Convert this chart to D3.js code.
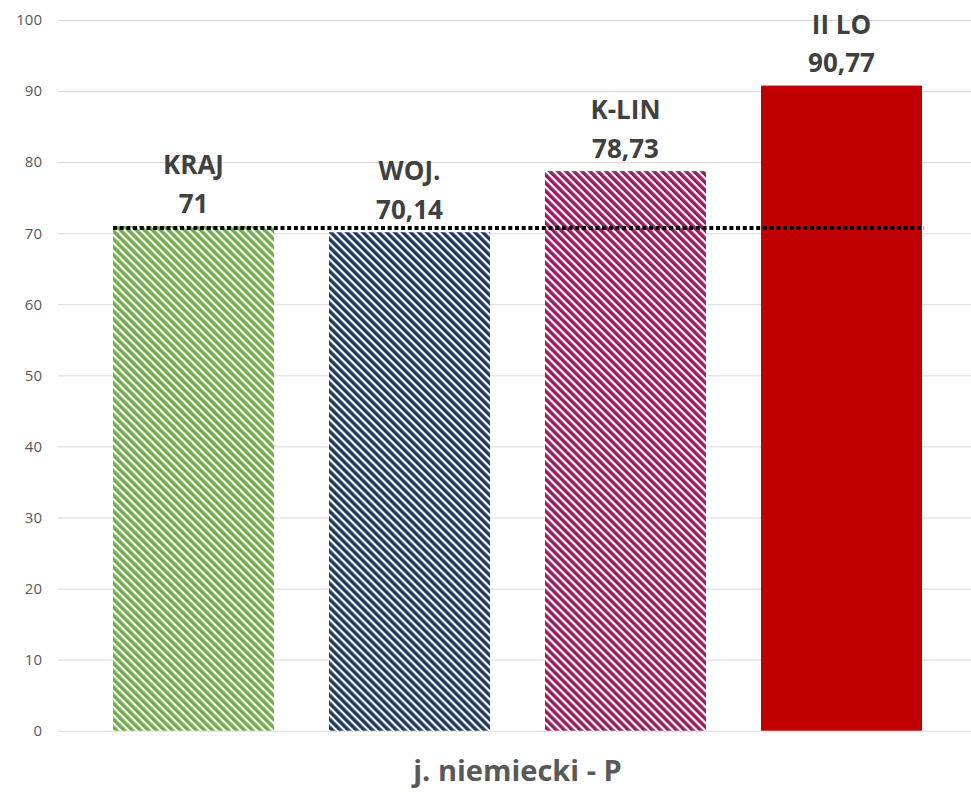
<!DOCTYPE html>
<html><head><meta charset="utf-8">
<script src="https://cdn.jsdelivr.net/npm/d3@7"></script>
<style>body{margin:0;background:#fff}svg{display:block}</style>
</head><body>
<script>
const categories = ["KRAJ", "WOJ.", "K-LIN", "II LO"];
const values = [71, 70.14, 78.73, 90.77];
const valueLabels = ["71", "70,14", "78,73", "90,77"];
const colors = ["#70AD47", "#1F3864", "#9C1C5C", "#C00000"];
const patterned = [true, true, true, false];
const referenceValue = 71;
const yTicks = [0,10,20,30,40,50,60,70,80,90,100];
const title = "j. niemiecki - P";

const W = 971, H = 795;
const svg = d3.select("body").append("svg").attr("width", W).attr("height", H);
const defs = svg.append("defs");

const x = d3.scaleBand().domain(categories).range([58, 977]).paddingInner(0.2546).paddingOuter(0.2546);
const y = d3.scaleLinear().domain([0, 100]).range([730.7, 20]);

categories.forEach((c, i) => {
  if (!patterned[i]) return;
  const p = defs.append("pattern").attr("id", "pat" + i)
    .attr("patternUnits", "userSpaceOnUse").attr("width", 5.66).attr("height", 10)
    .attr("patternTransform", "rotate(-45)");
  p.append("rect").attr("width", 5.66).attr("height", 10).attr("fill", "#fff");
  p.append("rect").attr("width", 3.5).attr("height", 10).attr("fill", colors[i]);
});

// gridlines + y labels
const yAxis = d3.axisLeft(y).tickValues(yTicks).tickSize(-(977 - 58)).tickPadding(16);
const ga = svg.append("g").attr("transform", "translate(58,0)").call(yAxis);
ga.select(".domain").remove();
ga.selectAll(".tick line").attr("stroke", "#D9D9D9").attr("stroke-width", 1);
ga.selectAll(".tick text").attr("fill", "#595959").style("font-family", "'Open Sans', sans-serif").style("font-size", "15px");

// bars
svg.append("g").selectAll("rect").data(categories).join("rect")
  .attr("x", d => x(d)).attr("width", x.bandwidth())
  .attr("y", (d, i) => y(values[i])).attr("height", (d, i) => y(0) - y(values[i]))
  .attr("fill", (d, i) => patterned[i] ? `url(#pat${i})` : colors[i]);

// reference dotted line
svg.append("line")
  .attr("x1", x(categories[0])).attr("x2", x(categories[categories.length - 1]) + x.bandwidth() + 2)
  .attr("y1", y(referenceValue) + 2).attr("y2", y(referenceValue) + 2)
  .attr("stroke", "#000").attr("stroke-width", 4).attr("stroke-dasharray", "4,2.7");

// labels
const lg = svg.append("g").style("font-family", "'Open Sans', sans-serif").style("font-weight", "bold")
  .style("font-size", "26px").attr("fill", "#404040").attr("text-anchor", "middle");
categories.forEach((c, i) => {
  const cx = x(c) + x.bandwidth() / 2;
  const by = y(values[i]) - 13.5;
  lg.append("text").attr("x", cx).attr("y", by).text(valueLabels[i]);
  lg.append("text").attr("x", cx).attr("y", by - 38.5).text(c);
});

svg.append("text").attr("x", (58 + 977) / 2).attr("y", 781).attr("text-anchor", "middle")
  .style("font-family", "'Open Sans', sans-serif").style("font-weight", "bold").style("font-size", "29px")
  .attr("fill", "#595959").text(title);
</script>
</body></html>
